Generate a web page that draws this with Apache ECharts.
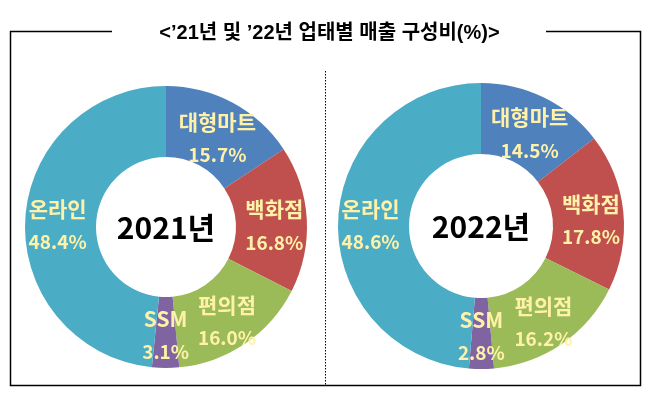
<!DOCTYPE html>
<html><head><meta charset="utf-8">
<script src="https://cdn.jsdelivr.net/npm/echarts@6/dist/echarts.min.js"></script>
<style>html,body{margin:0;padding:0;background:#fff}#c{width:659px;height:395px}</style>
</head><body><div id="c"></div>
<script>
const titleText = "<’21년 및 ’22년 업태별 매출 구성비(%)>";
const categories = ["대형마트", "백화점", "편의점", "SSM", "온라인"];
const values2021 = [15.7, 16.8, 16.0, 3.1, 48.4];
const values2022 = [14.5, 17.8, 16.2, 2.8, 48.6];
const years = ["2021년", "2022년"];
const colors = ["#4F81BD", "#C0504D", "#9BBB59", "#8064A2", "#4BACC6"];
const labelShift = [7, 5, 5, 0, 4];

const chart = echarts.init(document.getElementById('c'));
function mk(vals, center, radius) {
  return {
    type: 'pie', center: center, radius: radius, startAngle: 90, clockwise: true,
    silent: true, animation: false,
    data: categories.map((n, i) => ({ name: n, value: vals[i], itemStyle: { color: colors[i] },
      label: { offset: [0, labelShift[i]] } })),
    label: {
      show: true, position: 'inside', color: '#FFF2A8',
      fontFamily: 'Noto Sans CJK KR', fontWeight: 'bold', fontSize: 19, lineHeight: 32,
      formatter: p => '{n|' + p.name + '}\n{v|' + p.value.toFixed(1) + '%}',
      rich: {
        n: { fontFamily: 'Noto Sans CJK KR', fontWeight: 'bold', fontSize: 21, lineHeight: 33, color: '#FFF2A8' },
        v: { fontFamily: 'Noto Sans CJK KR', fontWeight: 'bold', fontSize: 19, lineHeight: 33, color: '#FFF2A8' }
      }
    },
    labelLine: { show: false },
    itemStyle: { borderWidth: 0 }
  };
}
const cfont = { fontFamily: 'Noto Sans CJK KR', fontWeight: 'bold', fontSize: 30, fill: '#000' };
chart.setOption({
  animation: false,
  title: { text: titleText, left: 'center', top: 18,
    textStyle: { fontFamily: 'Liberation Sans, Noto Sans CJK KR', fontWeight: 'bold', fontSize: 20, color: '#000' } },
  series: [mk(values2021, [166, 227], [70, 141]), mk(values2022, [481, 226], [72, 143])],
  graphic: [
    { type: 'polyline', shape: { points: [[112, 31.5], [10.5, 31.5], [10.5, 385.5], [640.5, 385.5], [640.5, 31.5], [546, 31.5]] },
      style: { stroke: '#000', lineWidth: 1.5, fill: null } },
    { type: 'line', shape: { x1: 325.5, y1: 71, x2: 325.5, y2: 385 }, style: { stroke: '#000', lineWidth: 1, lineDash: [1.5, 1.5] } },
    { type: 'text', x: 166, y: 228, style: Object.assign({ text: years[0], align: 'center', verticalAlign: 'middle' }, cfont) },
    { type: 'text', x: 481, y: 227, style: Object.assign({ text: years[1], align: 'center', verticalAlign: 'middle' }, cfont) }
  ]
});
</script></body></html>
